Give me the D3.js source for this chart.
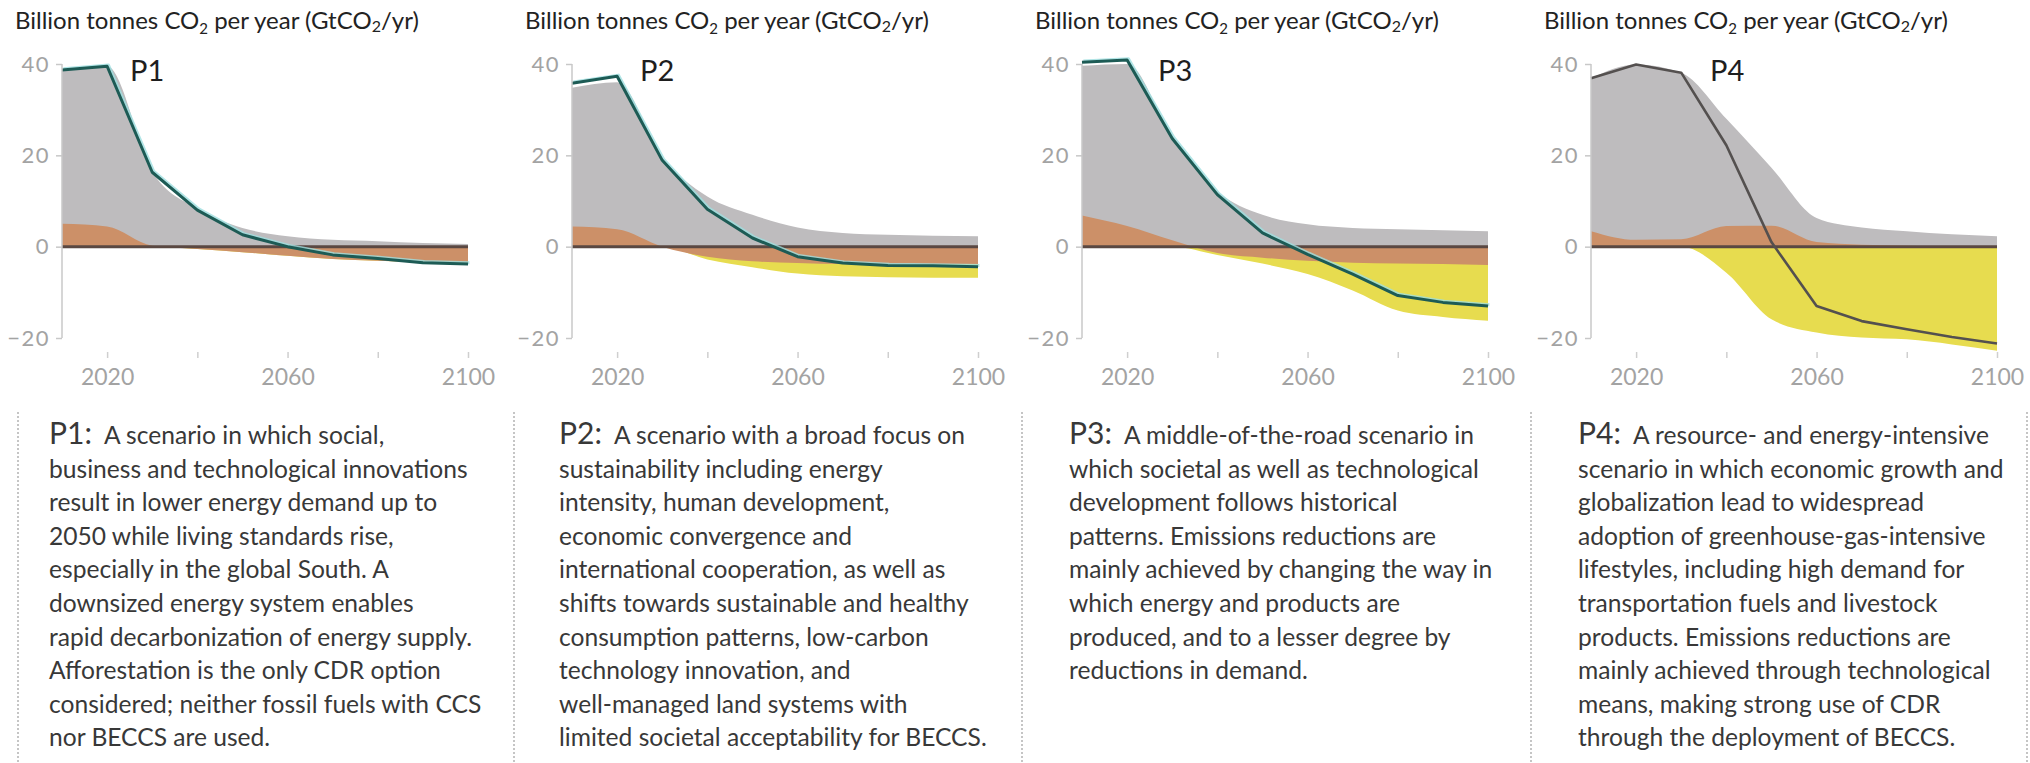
<!DOCTYPE html>
<html>
<head>
<meta charset="utf-8">
<script src="https://cdn.jsdelivr.net/npm/d3@7"></script>
<style>
  html, body { margin: 0; padding: 0; background: #fff; }
  svg { display: block; font-family: Lato, "Noto Sans", sans-serif; }
</style>
</head>
<body>
<svg id="chart" width="2030" height="763"></svg>
<script>
// ---- data (GtCO2 per year) ----
const years = [2010, 2020, 2030, 2040, 2050, 2060, 2070, 2080, 2090, 2100];
const scenarios = ["P1", "P2", "P3", "P4"];

// Fossil fuel and industry CO2 (grey)
const fossilP1 = [33.7, 35.1, 16.2, 8.3, 4.1, 2.3, 1.5, 1.2, 0.8, 0.6];
const fossilP2 = [30.4, 32.2, 19.5, 11.0, 7.0, 4.2, 3.0, 2.6, 2.4, 2.3];
const fossilP3 = [32.8, 35.5, 22.5, 12.1, 7.0, 4.9, 4.1, 3.8, 3.6, 3.4];
const fossilP4 = [33.5, 38.4, 36.5, 23.5, 12.7, 5.3, 3.8, 3.2, 2.7, 2.3];

// Agriculture, forestry and other land use CO2 (brown)
const afoluP1 = [5.0, 4.4, 0.2, -0.5, -1.2, -2.0, -2.7, -3.1, -3.4, -3.5];
const afoluP2 = [4.4, 3.8, 0.0, -2.2, -3.2, -3.6, -3.8, -3.8, -3.8, -3.8];
const afoluP3 = [6.8, 4.5, 1.4, -1.4, -2.4, -3.1, -3.5, -3.7, -3.8, -4.0];
const afoluP4 = [3.4, 1.5, 1.6, 4.5, 4.6, 1.0, 0.4, 0.2, 0.0, -0.3];

// Bioenergy with carbon capture and storage (yellow)
const beccsP1 = [0, 0, 0, 0, 0, 0, 0, 0, 0, 0];
const beccsP2 = [0, 0, 0, -0.6, -1.3, -2.3, -2.7, -2.9, -3.0, -3.0];
const beccsP3 = [0, 0, 0, -0.4, -1.3, -2.9, -6.1, -10.3, -11.6, -12.2];
const beccsP4 = [0, 0, 0, -5.7, -15.9, -18.8, -19.9, -20.3, -21.4, -22.5];

// Net global CO2 emissions (line)
const netP1 = [38.7, 39.5, 16.3, 8.0, 2.6, 0.0, -1.8, -2.6, -3.5, -3.8];
const netP2 = [35.8, 37.3, 18.9, 8.2, 1.9, -2.2, -3.6, -4.1, -4.2, -4.4];
const netP3 = [40.4, 40.9, 23.7, 11.4, 3.0, -1.7, -6.0, -10.7, -12.2, -13.0];
const netP4 = [36.9, 39.9, 38.1, 22.2, 1.0, -13.0, -16.3, -18.1, -19.8, -21.2];

const yTicks = [-20, 0, 20, 40];
const xTicks = [2020, 2040, 2060, 2080, 2100];
const xTickLabels = ["2020", "", "2060", "", "2100"];

const descP1 = [
  "A scenario in which social,",
  "business and technological innovations",
  "result in lower energy demand up to",
  "2050 while living standards rise,",
  "especially in the global South. A",
  "downsized energy system enables",
  "rapid decarbonization of energy supply.",
  "Afforestation is the only CDR option",
  "considered; neither fossil fuels with CCS",
  "nor BECCS are used."
];
const descP2 = [
  "A scenario with a broad focus on",
  "sustainability including energy",
  "intensity, human development,",
  "economic convergence and",
  "international cooperation, as well as",
  "shifts towards sustainable and healthy",
  "consumption patterns, low-carbon",
  "technology innovation, and",
  "well-managed land systems with",
  "limited societal acceptability for BECCS."
];
const descP3 = [
  "A middle-of-the-road scenario in",
  "which societal as well as technological",
  "development follows historical",
  "patterns. Emissions reductions are",
  "mainly achieved by changing the way in",
  "which energy and products are",
  "produced, and to a lesser degree by",
  "reductions in demand."
];
const descP4 = [
  "A resource- and energy-intensive",
  "scenario in which economic growth and",
  "globalization lead to widespread",
  "adoption of greenhouse-gas-intensive",
  "lifestyles, including high demand for",
  "transportation fuels and livestock",
  "products. Emissions reductions are",
  "mainly achieved through technological",
  "means, making strong use of CDR",
  "through the deployment of BECCS."
];

// ---- layout ----
const panels = [
  { name: "P1", fossil: fossilP1, afolu: afoluP1, beccs: beccsP1, net: netP1, desc: descP1, left: 62,   labelDx: 68,  lineColor: "#1d5b55", halo: true },
  { name: "P2", fossil: fossilP2, afolu: afoluP2, beccs: beccsP2, net: netP2, desc: descP2, left: 572,  labelDx: 68,  lineColor: "#1d5b55", halo: true },
  { name: "P3", fossil: fossilP3, afolu: afoluP3, beccs: beccsP3, net: netP3, desc: descP3, left: 1082, labelDx: 76,  lineColor: "#1d5b55", halo: true },
  { name: "P4", fossil: fossilP4, afolu: afoluP4, beccs: beccsP4, net: netP4, desc: descP4, left: 1591, labelDx: 119, lineColor: "#54504f", halo: false }
];
const plotW = 406;
const yTop = 64, yBottom = 338;
const separators = [18, 514, 1022, 1531, 2027];

const colors = {
  fossil: "#bebcbe",
  afolu: "#cc9068",
  beccs: "#e7dc4f",
  zero: "#5a4842",
  axis: "#c8c8c8",
  tickText: "#a3a3a3",
  title: "#222",
  body: "#383838"
};

const svg = d3.select("#chart");

const y = d3.scaleLinear().domain([-20, 40]).range([yBottom, yTop]);

panels.forEach(p => {
  const x = d3.scaleLinear().domain([2010, 2100]).range([p.left, p.left + plotW]);
  const g = svg.append("g").attr("class", "panel");

  const rows = years.map((yr, i) => ({
    year: yr,
    fossilTop: p.fossil[i] + Math.max(p.afolu[i], 0),
    afolu: p.afolu[i],
    beccsBottom: Math.min(p.afolu[i], 0) + p.beccs[i],
    net: p.net[i]
  }));

  const curve = d3.curveMonotoneX;
  const areaTo = key => d3.area().curve(curve)
    .x(d => x(d.year)).y0(y(0)).y1(d => y(d[key]));

  // stacked areas: grey first, yellow below zero, brown on top of both
  g.append("path").datum(rows).attr("d", areaTo("fossilTop")).attr("fill", colors.fossil);
  g.append("path").datum(rows).attr("d", areaTo("beccsBottom")).attr("fill", colors.beccs);
  g.append("path").datum(rows).attr("d", areaTo("afolu")).attr("fill", colors.afolu);

  // zero line
  g.append("line")
    .attr("x1", x(2010)).attr("x2", x(2100))
    .attr("y1", y(0)).attr("y2", y(0))
    .attr("stroke", colors.zero).attr("stroke-width", 3);

  // net emissions line
  const line = d3.line().x(d => x(d.year)).y(d => y(d.net));
  if (p.halo) {
    g.append("path").datum(rows).attr("d", line)
      .attr("fill", "none").attr("stroke", "#9ddfe0").attr("stroke-width", 3)
      .attr("stroke-linejoin", "round").attr("opacity", 0.8)
      .attr("transform", "translate(1.4,-1.2)");
  }
  g.append("path").datum(rows).attr("d", line)
    .attr("fill", "none").attr("stroke", p.lineColor)
    .attr("stroke-width", p.halo ? 3 : 2.6).attr("stroke-linejoin", "round");

  // y axis
  const yAxis = g.append("g").attr("transform", `translate(${p.left},0)`)
    .call(d3.axisLeft(y).tickValues(yTicks).tickSize(6).tickPadding(6));
  yAxis.select(".domain").attr("stroke", colors.axis).attr("stroke-width", 1.5)
    .attr("d", `M0,${y(40)}V${y(-20)}`);
  yAxis.selectAll(".tick line").attr("stroke", colors.axis).attr("stroke-width", 1.5);
  yAxis.selectAll(".tick text").attr("fill", colors.tickText)
    .style("font-size", "22px").style("font-family", "Lato, sans-serif")
    .attr("letter-spacing", "1.5px");

  // x axis (ticks only, no domain line)
  const xAxis = g.append("g").attr("transform", `translate(0,${352})`)
    .call(d3.axisBottom(x).tickValues(xTicks).tickSize(6).tickPadding(11)
      .tickFormat((d, i) => xTickLabels[i]));
  xAxis.select(".domain").remove();
  xAxis.selectAll(".tick line").attr("stroke", "#cfcfcf").attr("stroke-width", 1.5);
  xAxis.selectAll(".tick text").attr("fill", colors.tickText)
    .style("font-size", "23px").style("font-family", "Lato, sans-serif");

  // unit title
  const title = g.append("text")
    .attr("x", p.left - 47).attr("y", 29)
    .attr("fill", colors.title).style("font-size", "24px");
  title.append("tspan").text("Billion tonnes CO");
  title.append("tspan").text("2").style("font-size", "15px").attr("dy", 5);
  title.append("tspan").text(" per year (GtCO").attr("dy", -5);
  title.append("tspan").text("2").style("font-size", "16px").attr("dy", 3);
  title.append("tspan").text("/yr)").attr("dy", -3);

  // scenario label in plot
  g.append("text")
    .attr("x", p.left + p.labelDx).attr("y", 81)
    .attr("fill", "#1e1e1e").style("font-size", "29px")
    .text(p.name);

  // description block
  const tx = p.left - 13;
  const text = g.append("text").attr("fill", colors.body).style("font-size", "24.6px");
  p.desc.forEach((s, i) => {
    if (i === 0) {
      text.append("tspan").attr("x", tx).attr("y", 444)
        .style("font-size", "30px").text(p.name + ":");
      text.append("tspan").attr("dx", 12).text(s);
    } else {
      text.append("tspan").attr("x", tx).attr("y", 444 + i * 33.6).text(s);
    }
  });
});

// dashed separators between description blocks
svg.append("g").selectAll("line").data(separators).join("line")
  .attr("x1", d => d).attr("x2", d => d)
  .attr("y1", 412).attr("y2", 763)
  .attr("stroke", "#b3b3b3").attr("stroke-width", 1.5)
  .attr("stroke-dasharray", "2,2");
</script>
</body>
</html>
